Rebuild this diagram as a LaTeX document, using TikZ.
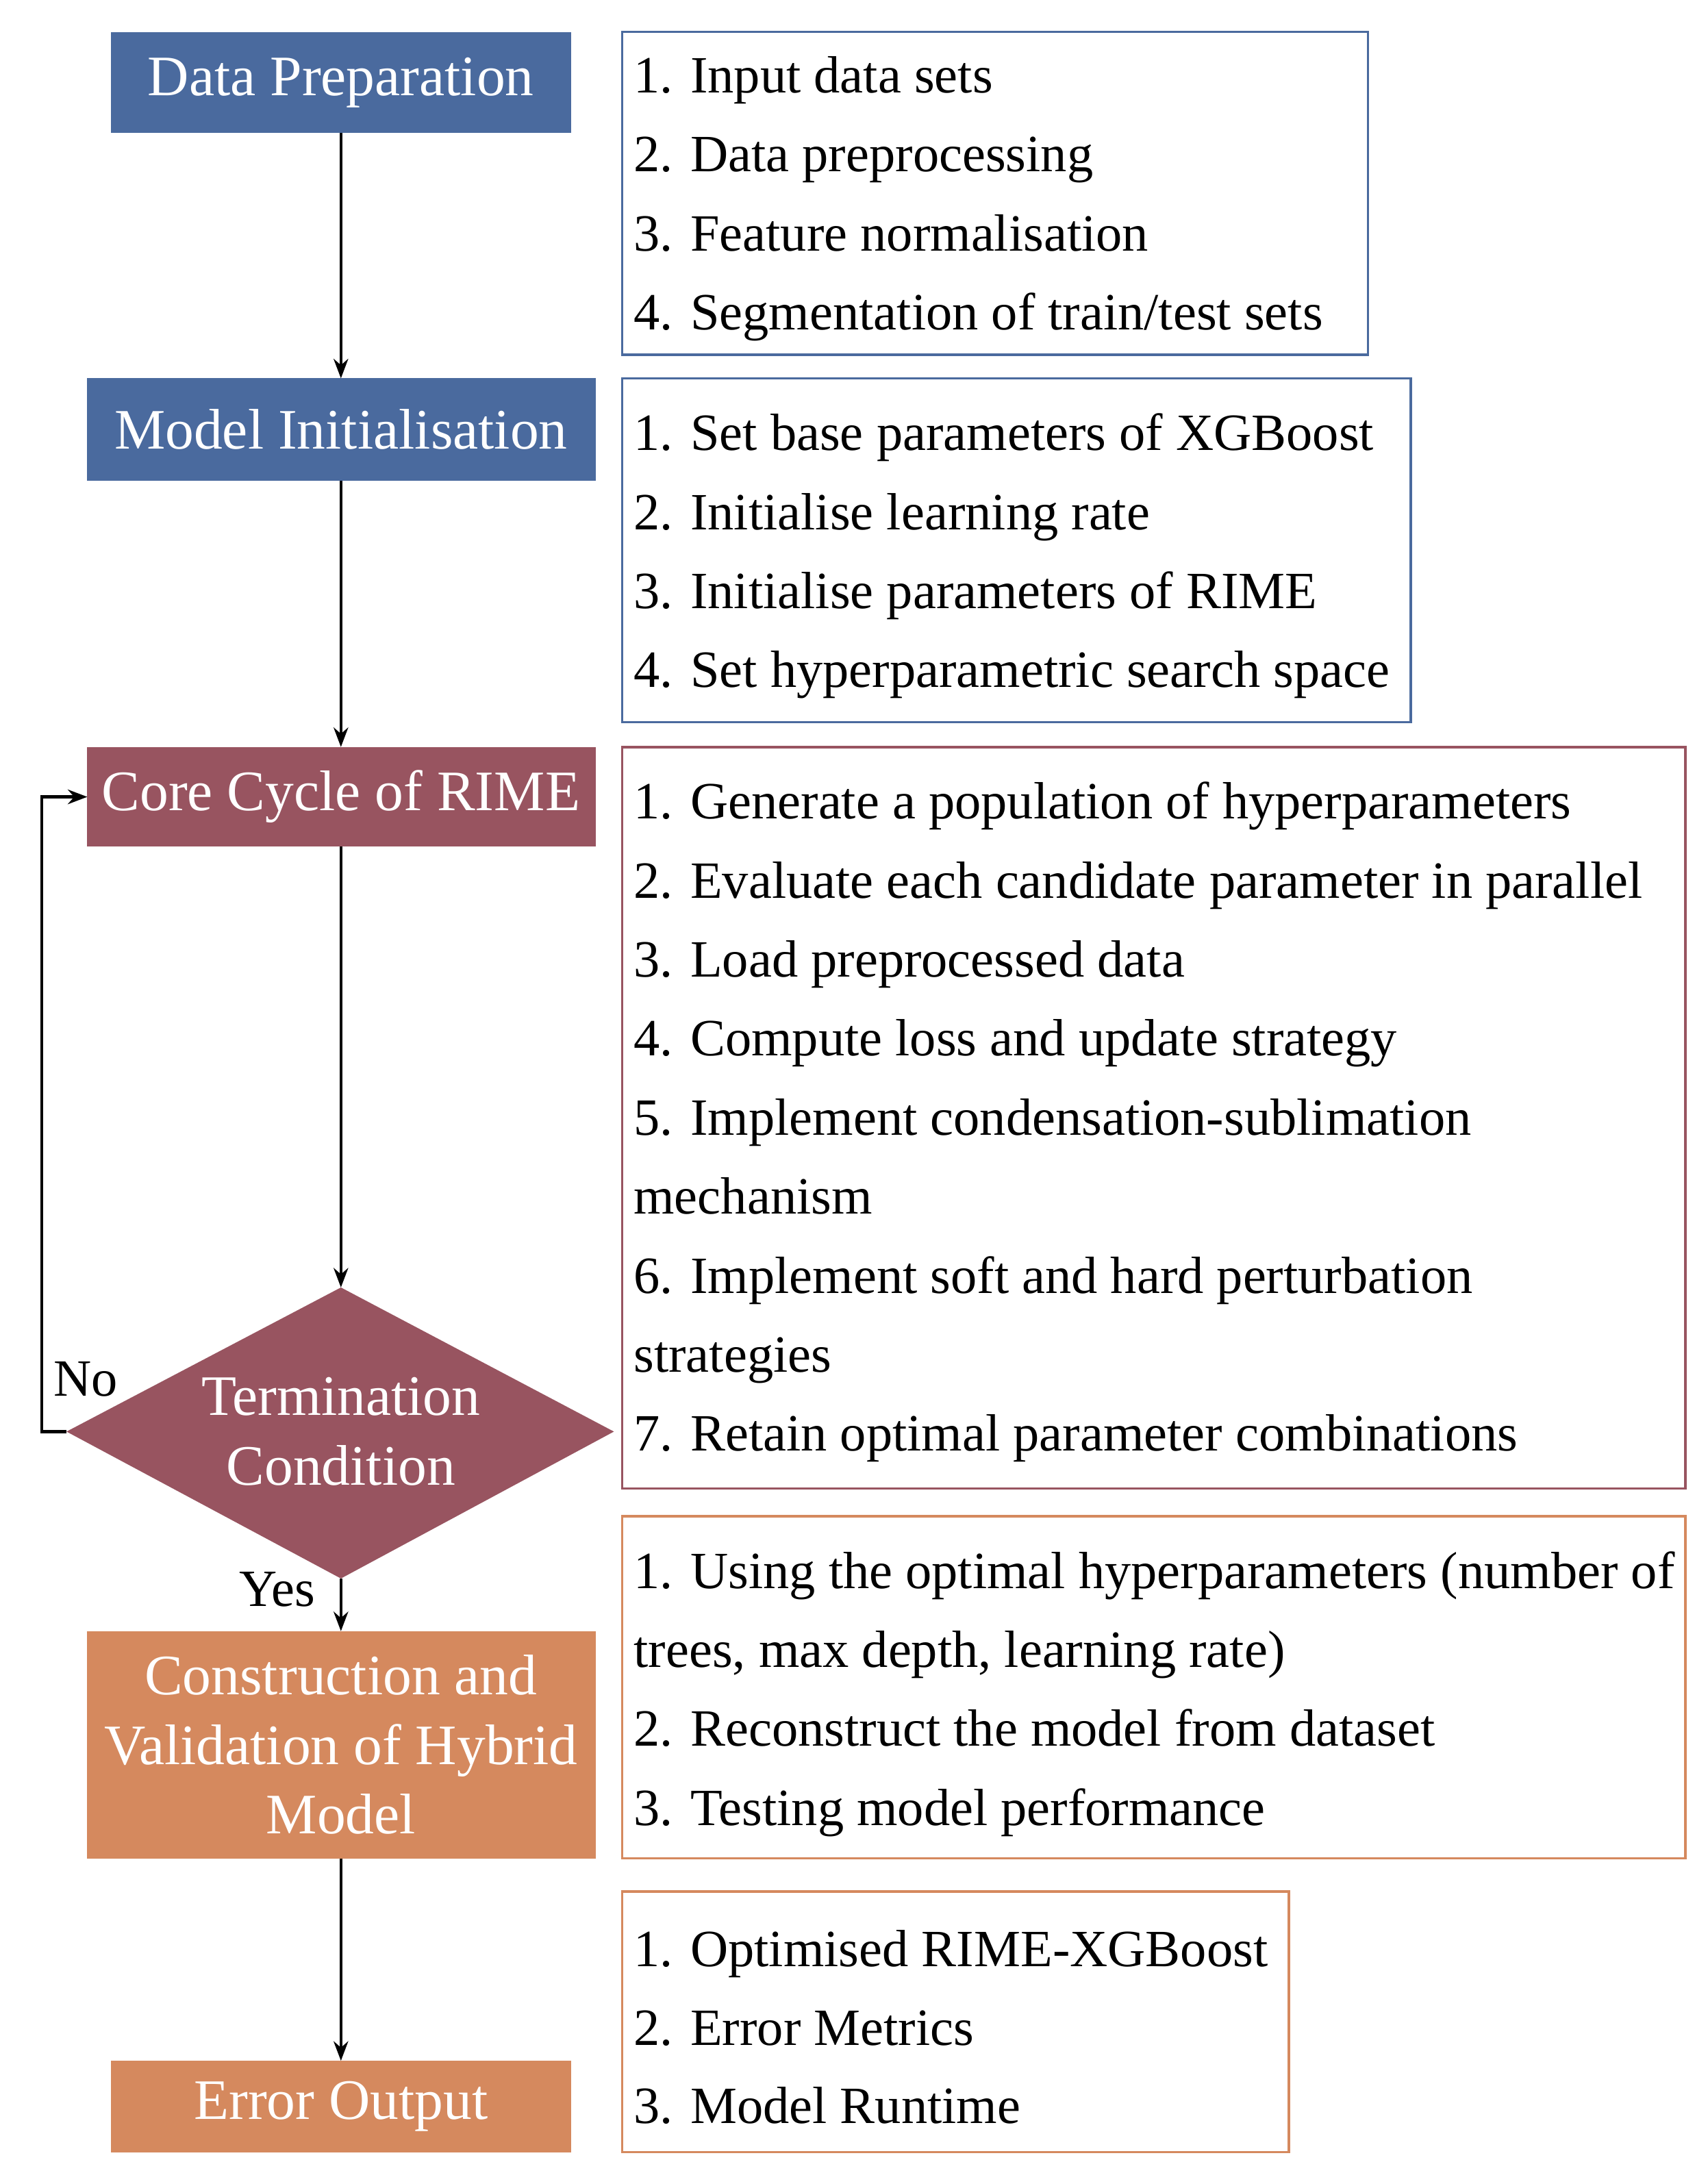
\documentclass[tikz,border=0pt]{standalone}
\usepackage{fontspec}
\setmainfont{Liberation Serif}
\usetikzlibrary{shapes.geometric,arrows.meta}
\definecolor{cblue}{HTML}{4A6A9E}
\definecolor{cred}{HTML}{985460}
\definecolor{corange}{HTML}{D5895E}
\begin{document}
\begin{tikzpicture}[x=0.02cm,y=-0.02cm,
  hd/.style={draw=none,text=white,font=\fontsize{23.5}{28.5}\selectfont,align=center,inner sep=0},
  lst/.style={anchor=base west,inner sep=0,font=\fontsize{21.5}{26}\selectfont},
  arr/.style={-{Stealth[length=8pt,width=6pt]},line width=1.2pt}]
\useasboundingbox (0,0) rectangle (1232,1568);
% boxes
\draw[cblue,line width=1pt] (449,23) rectangle (987,256);
\draw[cblue,line width=1pt] (449,273) rectangle (1018,521);
\draw[cred,line width=1pt] (449,539) rectangle (1216,1074);
\draw[corange,line width=1pt] (449,1094) rectangle (1216,1341);
\draw[corange,line width=1pt] (449,1365) rectangle (930,1553);
% headers
\fill[cblue] (80,23) rectangle (412,96);
\node[hd] (dp) at (246,59.5) {Data Preparation};
\coordinate (dpb) at (246,96);
\fill[cblue] (63,273) rectangle (430,347);
\node[hd] (mi) at (246,310) {Model Initialisation};
\coordinate (mit) at (246,273); \coordinate (mib) at (246,347);
\fill[cred] (63,539) rectangle (430,611);
\node[hd] (cc) at (246,575) {Core Cycle of RIME};
\coordinate (cct) at (246,539); \coordinate (ccb) at (246,611); \coordinate (ccl) at (63,575);
\fill[cred] (246,929) -- (443,1033) -- (246,1139) -- (48,1033) -- cycle;
\node[hd] (tc) at (246,1033) {Termination\\Condition};
\coordinate (tct) at (246,929); \coordinate (tcb) at (246,1139); \coordinate (tcl) at (48,1033);
\fill[corange] (63,1177) rectangle (430,1341);
\node[hd] (cv) at (246,1259) {Construction and\\Validation of Hybrid\\Model};
\coordinate (cvt) at (246,1177); \coordinate (cvb) at (246,1341);
\fill[corange] (80,1487) rectangle (412,1553);
\node[hd] (eo) at (246,1520) {Error Output};
\coordinate (eot) at (246,1487);
% arrows
\draw[arr] (dpb) -- (mit);
\draw[arr] (mib) -- (cct);
\draw[arr] (ccb) -- (tct);
\draw[arr] (tcb) -- (cvt);
\draw[arr] (cvb) -- (eot);
\coordinate (lp1) at (30,1033); \coordinate (lp2) at (30,575);
\draw[arr] (tcl) -- (lp1) -- (lp2) -- (ccl);
\node[lst,anchor=center] (no) at (62,995) {No};
\node[lst,anchor=center] (yes) at (200,1147) {Yes};
% lists
\node[lst] (a1) at (457,67) {1. Input data sets};
\node[lst] (a2) at (457,124) {2. Data preprocessing};
\node[lst] (a3) at (457,181) {3. Feature normalisation};
\node[lst] (a4) at (457,238) {4. Segmentation of train/test sets};
\node[lst] (b1) at (457,325) {1. Set base parameters of XGBoost};
\node[lst] (b2) at (457,382) {2. Initialise learning rate};
\node[lst] (b3) at (457,439) {3. Initialise parameters of RIME};
\node[lst] (b4) at (457,496) {4. Set hyperparametric search space};
\node[lst] (c1) at (457,591) {1. Generate a population of hyperparameters};
\node[lst] (c2) at (457,648) {2. Evaluate each candidate parameter in parallel};
\node[lst] (c3) at (457,705) {3. Load preprocessed data};
\node[lst] (c4) at (457,762) {4. Compute loss and update strategy};
\node[lst] (c5) at (457,819) {5. Implement condensation-sublimation};
\node[lst] (c5b) at (457,876) {mechanism};
\node[lst] (c6) at (457,933) {6. Implement soft and hard perturbation};
\node[lst] (c6b) at (457,990) {strategies};
\node[lst] (c7) at (457,1047) {7. Retain optimal parameter combinations};
\node[lst] (d1) at (457,1146) {1. Using the optimal hyperparameters (number of};
\node[lst] (d1b) at (457,1203) {trees, max depth, learning rate)};
\node[lst] (d2) at (457,1260) {2. Reconstruct the model from dataset};
\node[lst] (d3) at (457,1317) {3. Testing model performance};
\node[lst] (e1) at (457,1419) {1. Optimised RIME-XGBoost};
\node[lst] (e2) at (457,1476) {2. Error Metrics};
\node[lst] (e3) at (457,1532) {3. Model Runtime};
\end{tikzpicture}
\end{document}
